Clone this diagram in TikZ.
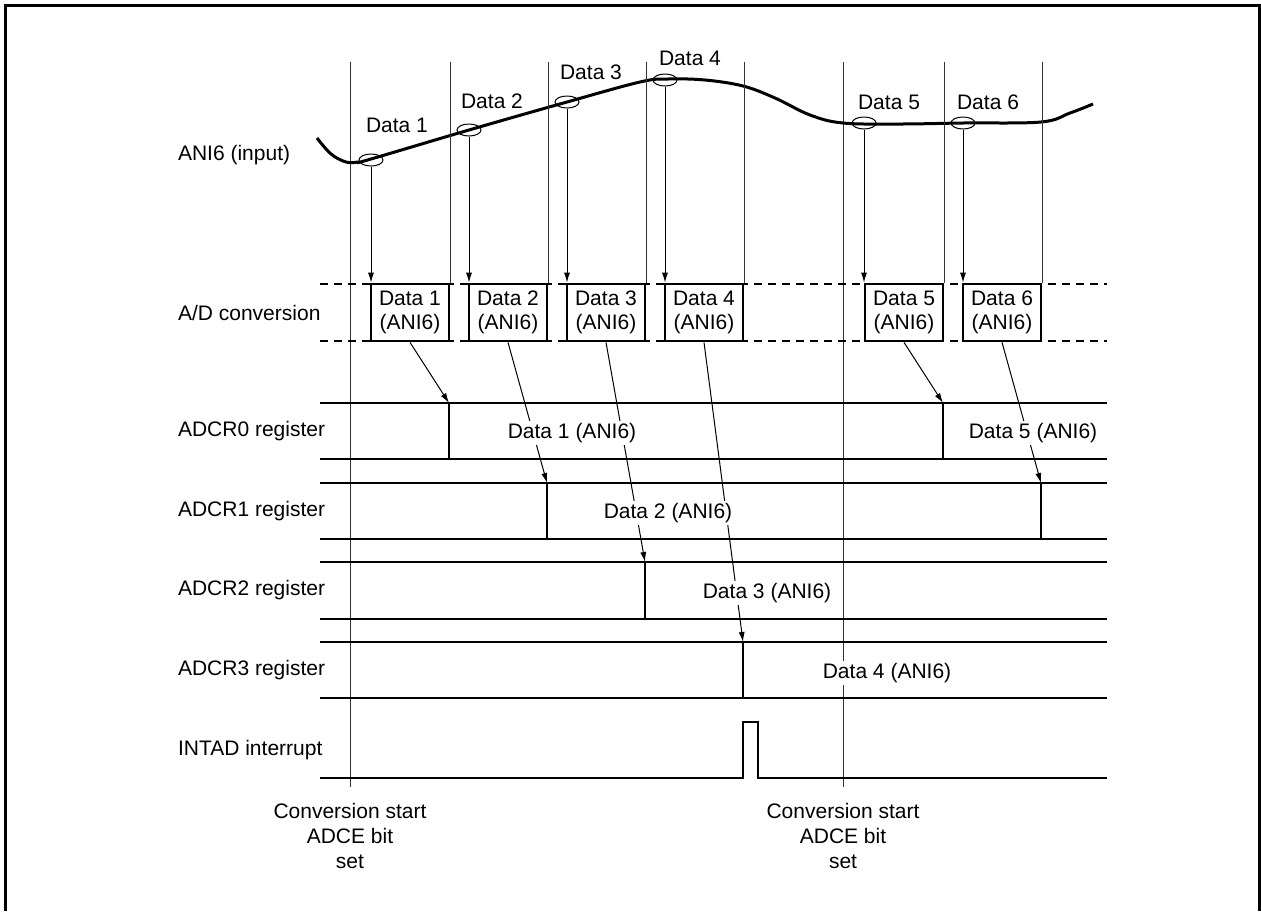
\documentclass[tikz,border=0pt]{standalone}
\usepackage{fontspec}
\setmainfont{Liberation Sans}
\usetikzlibrary{arrows.meta,shapes.geometric}

\begin{document}
\begin{tikzpicture}[x=0.5pt, y=-0.5pt,
  font=\fontsize{10.5}{12.3}\selectfont,
  guia/.style={line width=0.5pt, black!80},
  senal/.style={line width=1.25pt},
  muestra/.style={ellipse, draw, line width=0.5pt, minimum width=12pt, minimum height=6pt, inner sep=0pt},
  conv/.style={draw, line width=1.35pt, fill=white, minimum width=39pt, minimum height=28.5pt, inner sep=0pt, align=center},
  flecha/.style={line width=0.5pt, -{Latex[length=5pt,width=3pt]}},
  dato/.style={fill=white, inner sep=1pt},
  fila/.style={anchor=west}]
\useasboundingbox (0,0) rectangle (1261,911);

% Marco
\draw[line width=1.5pt] (5.5,911) -- (5.5,5) -- (1259.5,5) -- (1259.5,911);

% Nombres de las filas
\node[fila] (lin) at (171,155) {ANI6 (input)};
\node[fila] (lad) at (171,313) {A/D conversion};
\node[fila] (lr0) at (171,431) {ADCR0 register};
\node[fila] (lr1) at (171,511) {ADCR1 register};
\node[fila] (lr2) at (171,590) {ADCR2 register};
\node[fila] (lr3) at (171,670) {ADCR3 register};
\node[fila] (lint) at (171,750) {INTAD interrupt};

% Inicio de conversion
\coordinate (top) at (0,62);
\draw[guia] (350,62) -- (350,787);
\draw[guia] (843,62) -- (843,787);

% Senal de entrada
\draw[line width=1.5pt] plot[smooth, tension=0.6] coordinates {(317,138) (331,154) (346,162) (358,162) (371,159)
  (469,130) (567,102) (640,82) (668,79) (705,80) (743,86) (775,98) (810,115) (843,123)
  (900,124) (963,123) (1041,122) (1070,113) (1093,104)};

% Muestras
\foreach \n/\x/\y in {1/371/160, 2/469/130, 3/567/102, 4/665/80, 5/864/123, 6/963/123}
  \node[muestra] (s\n) at (\x,\y) {};
\node (d1) at (397,125) {Data 1};
\node (d2) at (492,101) {Data 2};
\node (d3) at (591,72) {Data 3};
\node (d4) at (690,58) {Data 4};
\node (d5) at (889,102) {Data 5};
\node (d6) at (988,102) {Data 6};

% Conversion A/D
\draw[senal, dash pattern=on 4pt off 3pt] (320,284) -- (1107,284);
\draw[senal, dash pattern=on 4pt off 3pt] (320,341) -- (1107,341);
\foreach \n/\x in {1/410, 2/508, 3/606, 4/704, 5/904, 6/1002}
  \node[conv] (c\n) at (\x,312.5) {Data \n\\(ANI6)};
\foreach \n in {1,...,6} {
  \draw[guia] (c\n.north east |- top) -- (c\n.north east);
  \draw[flecha] (s\n.south) -- (s\n.south |- c\n.north);
}

% Registros ADCR0-ADCR3
\foreach \t/\b in {403/459, 483/539, 562/619, 642/698}
  \draw[senal] (320,\t) -- (1107,\t) (320,\b) -- (1107,\b);
\coordinate (t1) at (449,403);
\coordinate (t5) at (943,403);
\coordinate (t2) at (547,483);
\coordinate (t6) at (1041,483);
\coordinate (t3) at (645,562);
\coordinate (t4) at (743,642);
\foreach \n in {1,...,6} {
  \draw[senal] (t\n) -- ++(0,56);
  \draw[flecha] (c\n.south) -- (t\n);
}

% INTAD
\draw[senal] (320,778) -- (t4 |- 0,778) -- (t4 |- 0,722) -- (758,722) -- (758,778) -- (1107,778);

% Contenido de los registros
\node[dato] (v1) at (572,433) {Data 1 (ANI6)};
\node[dato] (v5) at (1033,433) {Data 5 (ANI6)};
\node[dato] (v2) at (668,513) {Data 2 (ANI6)};
\node[dato] (v3) at (767,593) {Data 3 (ANI6)};
\node[dato] (v4) at (887,673) {Data 4 (ANI6)};

% Textos inferiores
\node[align=center] (cs1) at (350,836) {Conversion start\\ADCE bit\\set};
\node[align=center] (cs2) at (843,836) {Conversion start\\ADCE bit\\set};
\end{tikzpicture}
\end{document}
